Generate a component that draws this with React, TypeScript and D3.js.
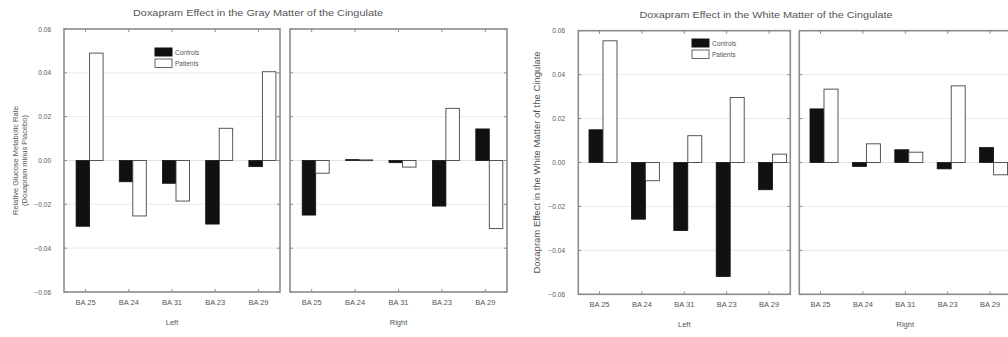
import React from "react";
import * as d3 from "d3";

// data
const categories = ["BA 25", "BA 24", "BA 31", "BA 23", "BA 29"];
const yTicks = [0.06, 0.04, 0.02, 0, -0.02, -0.04, -0.06];

const grayLeftControls = [-0.03, -0.0097, -0.0104, -0.029, -0.0028];
const grayLeftPatients = [0.049, -0.0253, -0.0185, 0.0147, 0.0405];
const grayRightControls = [-0.0249, 0.0004, -0.001, -0.0208, 0.0144];
const grayRightPatients = [-0.0058, 0.0003, -0.003, 0.0238, -0.031];

const whiteLeftControls = [0.0149, -0.0258, -0.031, -0.0519, -0.0124];
const whiteLeftPatients = [0.0554, -0.0083, 0.0122, 0.0296, 0.0038];
const whiteRightControls = [0.0244, -0.0018, 0.0058, -0.0029, 0.0068];
const whiteRightPatients = [0.0334, 0.0085, 0.0047, 0.0349, -0.0056];

const textColor = "#555";
const frameColor = "#8c8c8c";
const font = "'Liberation Sans', Arial, sans-serif";

type PanelProps = {
  x0: number;
  width: number;
  y: d3.ScaleLinear<number, number>;
  controls: number[];
  patients: number[];
  label: string;
  barWidth: number;
  shift: number;
};

const Panel: React.FC<PanelProps> = ({ x0, width, y, controls, patients, label, barWidth, shift }) => {
  const x = d3.scaleBand<string>().domain(categories).range([x0, x0 + width]);
  const [top, bottom] = [y(0.06), y(-0.06)];
  return (
    <g>
      {/* grid lines */}
      {yTicks.slice(1, -1).filter(t => t !== 0).map(t => (
        <line key={t} x1={x0} x2={x0 + width} y1={y(t)} y2={y(t)} stroke="#e6e6e6" strokeWidth={0.8} />
      ))}
      {/* zero line */}
      <line x1={x0} x2={x0 + width} y1={y(0)} y2={y(0)} stroke="#d0d0d0" strokeWidth={0.6} />
      {/* side ticks */}
      {yTicks.map(t => (
        <g key={"t" + t}>
          <line x1={x0} x2={x0 + 3} y1={y(t)} y2={y(t)} stroke={frameColor} />
          <line x1={x0 + width - 3} x2={x0 + width} y1={y(t)} y2={y(t)} stroke={frameColor} />
        </g>
      ))}
      {categories.map((c, i) => {
        const cx = (x(c) as number) + x.bandwidth() / 2;
        const bx = cx + shift - barWidth;
        return (
          <g key={c}>
            <line x1={cx} x2={cx} y1={top} y2={top + 3} stroke={frameColor} />
            <line x1={cx} x2={cx} y1={bottom - 3} y2={bottom} stroke={frameColor} />
            <rect
              x={bx}
              y={Math.min(y(controls[i]), y(0))}
              width={barWidth}
              height={Math.max(Math.abs(y(controls[i]) - y(0)), 0.8)}
              fill="#111"
              stroke="#111"
              strokeWidth={0.8}
            />
            <rect
              x={bx + barWidth}
              y={Math.min(y(patients[i]), y(0))}
              width={barWidth}
              height={Math.max(Math.abs(y(patients[i]) - y(0)), 0.8)}
              fill="#fff"
              stroke="#444"
              strokeWidth={0.9}
            />
            <text x={cx} y={bottom + 13} textAnchor="middle" fontSize={7.5} fill={textColor}>
              {c}
            </text>
          </g>
        );
      })}
      <rect x={x0} y={top} width={width} height={bottom - top} fill="none" stroke={frameColor} strokeWidth={1.6} />
      <text x={x0 + width / 2} y={bottom + 33} textAnchor="middle" fontSize={7.5} fill={textColor}>
        {label}
      </text>
    </g>
  );
};

type ChartProps = {
  title: string;
  titleX: number;
  titleY: number;
  titleLen: number;
  top: number;
  bottom: number;
  left: [number, number];
  right: [number, number];
  tickX: number;
  yLabels: string[];
  yLabelX: number[];
  yLabelFont: number;
  legend: [number, number];
  data: number[][];
  barWidth: number;
  shift: number;
};

const Chart: React.FC<ChartProps> = p => {
  const y = d3.scaleLinear().domain([-0.06, 0.06]).range([p.bottom, p.top]);
  const midY = (p.top + p.bottom) / 2;
  const [lx, ly] = p.legend;
  return (
    <g fontFamily={font}>
      <text
        x={p.titleX}
        y={p.titleY}
        textAnchor="middle"
        fontSize={9.5}
        fill={textColor}
        textLength={p.titleLen}
        lengthAdjust="spacingAndGlyphs"
      >
        {p.title}
      </text>
      {p.yLabels.map((l, i) => (
        <text
          key={l}
          transform={`translate(${p.yLabelX[i]},${midY}) rotate(-90)`}
          textAnchor="middle"
          fontSize={p.yLabelFont}
          fill={textColor}
        >
          {l}
        </text>
      ))}
      {yTicks.map(t => (
        <text key={t} x={p.tickX} y={y(t) + 2.5} textAnchor="end" fontSize={6.5} fill={textColor}>
          {d3.format(".2f")(t)}
        </text>
      ))}
      <Panel x0={p.left[0]} width={p.left[1]} y={y} controls={p.data[0]} patients={p.data[1]} label="Left" barWidth={p.barWidth} shift={p.shift} />
      <Panel x0={p.right[0]} width={p.right[1]} y={y} controls={p.data[2]} patients={p.data[3]} label="Right" barWidth={p.barWidth} shift={p.shift} />
      {/* legend */}
      <rect x={lx} y={ly} width={17} height={8} fill="#111" stroke="#111" />
      <rect x={lx} y={ly + 11} width={17} height={8.5} fill="#fff" stroke="#555" strokeWidth={0.9} />
      <text x={lx + 20} y={ly + 7} fontSize={6.5} fill={textColor}>Controls</text>
      <text x={lx + 20} y={ly + 18} fontSize={6.5} fill={textColor}>Patients</text>
    </g>
  );
};

export default function App() {
  return (
    <svg width={1008} height={337} style={{ position: "absolute", left: 0, top: 0, background: "#fff" }}>
      <rect width={1008} height={337} fill="#fff" />
      <Chart
        title="Doxapram Effect in the Gray Matter of the Cingulate"
        titleX={258}
        titleY={16}
        titleLen={250}
        top={29}
        bottom={292}
        left={[64, 216]}
        right={[290, 217]}
        tickX={51}
        yLabels={["Relative Glucose Metabolic Rate", "(Doxapram minus Placebo)"]}
        yLabelX={[18, 27]}
        yLabelFont={7.5}
        legend={[155, 48]}
        data={[grayLeftControls, grayLeftPatients, grayRightControls, grayRightPatients]}
        barWidth={13.5}
        shift={4}
      />
      <Chart
        title="Doxapram Effect in the White Matter of the Cingulate"
        titleX={766}
        titleY={18}
        titleLen={253}
        top={30.7}
        bottom={294.3}
        left={[578.3, 212]}
        right={[799.3, 212]}
        tickX={565}
        yLabels={["Doxapram Effect in the White Matter of the Cingulate"]}
        yLabelX={[540]}
        yLabelFont={9.5}
        legend={[692, 39]}
        data={[whiteLeftControls, whiteLeftPatients, whiteRightControls, whiteRightPatients]}
        barWidth={14}
        shift={3.5}
      />
    </svg>
  );
}
